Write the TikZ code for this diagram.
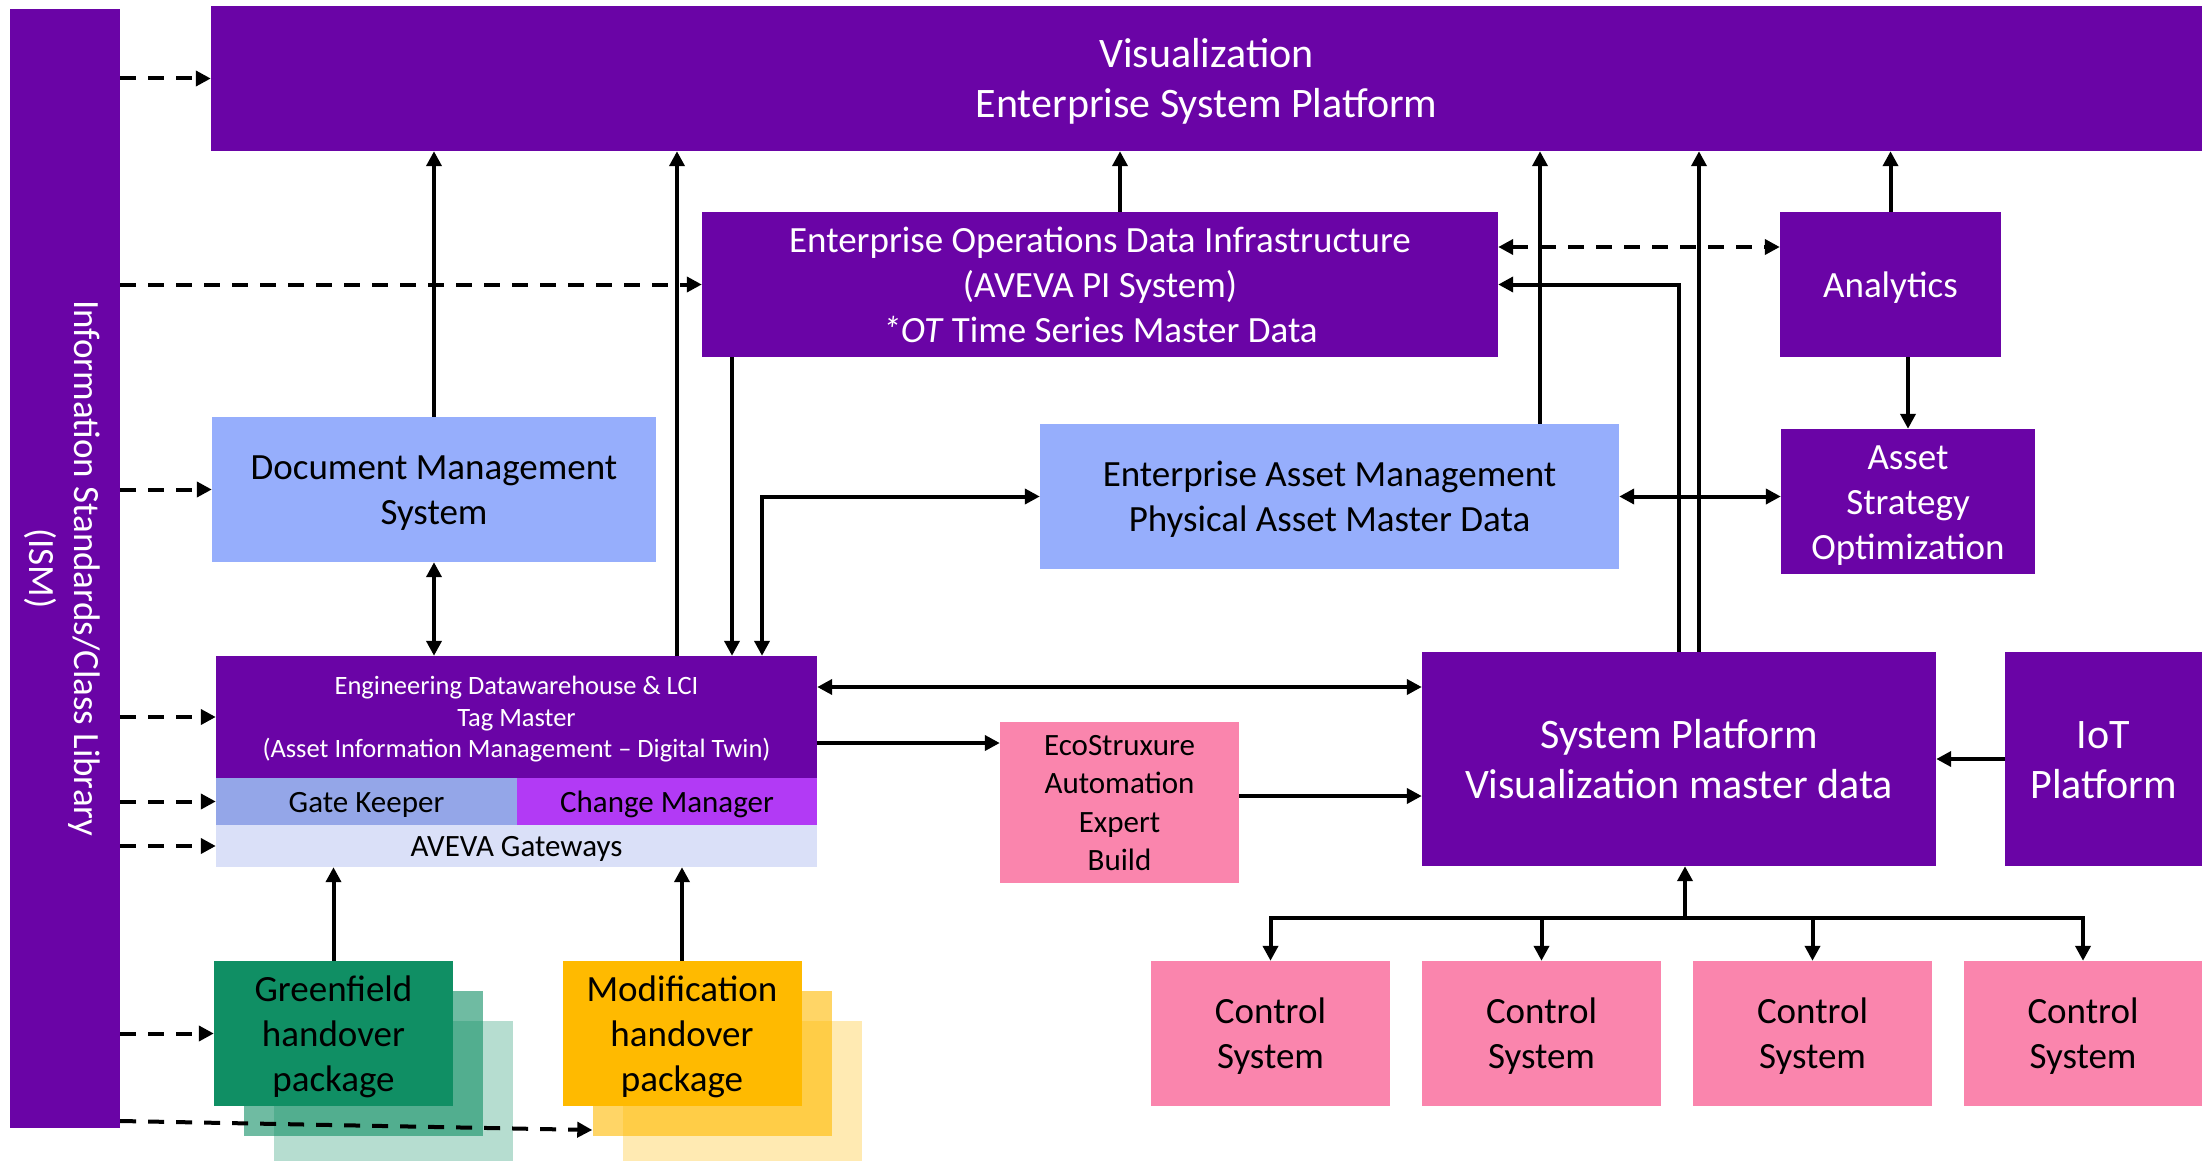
\documentclass[tikz,border=0pt]{standalone}
\usepackage{fontspec}
\setmainfont{Carlito}
\usetikzlibrary{arrows.meta}

\definecolor{avpurple}{RGB}{106,4,166}
\definecolor{avblue}{RGB}{150,174,252}
\definecolor{gatek}{RGB}{148,166,232}
\definecolor{changem}{RGB}{178,58,245}
\definecolor{gwblue}{RGB}{218,224,248}
\definecolor{avpink}{RGB}{250,133,173}
\definecolor{avgreen}{RGB}{16,143,100}
\definecolor{avyellow}{RGB}{255,186,0}

\begin{document}
\begin{tikzpicture}[x=1pt, y=-1pt,
    block/.style={rectangle, inner sep=0pt, align=center, font=\fontsize{37}{45}\selectfont,
        execute at begin node={\spaceskip=\fontdimen2\font\relax\rule{0pt}{0.95em}},
        execute at end node={\rule[-0.27em]{0pt}{0.27em}}},
    boxsize/.style 2 args={minimum width=#1, text width=#1, minimum height=#2},
    dark/.style={block, fill=avpurple, text=white},
    light/.style={block, fill=avblue},
    pinkbox/.style={block, fill=avpink},
    arrow/.style={-{Triangle[length=15pt,width=15pt]}, line width=4pt},
    both/.style={{Triangle[length=15pt,width=15pt]}-{Triangle[length=15pt,width=15pt]}, line width=4pt},
    dasharrow/.style={arrow, dash pattern=on 16pt off 12pt},
    dashboth/.style={both, dash pattern=on 16pt off 12pt}]

    \useasboundingbox[fill=white] (0,0) rectangle (2202,1161);

    % Standards bar
    \node[block, fill=avpurple, boxsize={110}{1119}] (ism) at (65,568.5) {};
    \node[block, rotate=-90, text=white, boxsize={1119}{0}] (ismtext) at (ism) {Information Standards/Class Library\\(ISM)};

    % Top layer
    \node[dark, boxsize={1991}{145}, font=\fontsize{42}{50}\selectfont] (viz) at (1206.5,78.5) {Visualization\\Enterprise System Platform};

    % Middle layer
    \node[dark, boxsize={796}{145}] (eodi) at (1100,284.5) {Enterprise Operations Data Infrastructure\\(AVEVA PI System)\\\textit{*OT} Time Series Master Data};
    \node[dark, boxsize={221}{145}] (analytics) at (1890.5,284.5) {Analytics};
    \node[light, boxsize={444}{145}] (dms) at (434,489.5) {Document Management\\System};
    \node[light, boxsize={579}{145}] (eam) at (1329.5,496.5) {Enterprise Asset Management\\Physical Asset Master Data};
    \node[dark, boxsize={254}{145}] (aso) at (1908,501.5) {Asset\\Strategy\\Optimization};

    % Engineering data
    \node[dark, boxsize={601}{122}, font=\fontsize{26.5}{31.5}\selectfont] (edw) at (516.5,717) {Engineering Datawarehouse \& LCI\\Tag Master\\(Asset Information Management -- Digital Twin)};
    \node[block, fill=gatek, boxsize={301}{47}, font=\fontsize{31}{37}\selectfont] (gate) at (366.5,801.5) {Gate Keeper};
    \node[block, fill=changem, boxsize={300}{47}, font=\fontsize{31}{37}\selectfont] (change) at (667,801.5) {Change Manager};
    \node[block, fill=gwblue, boxsize={601}{42}, font=\fontsize{31}{37}\selectfont] (gw) at (516.5,846) {AVEVA Gateways};

    % Handover packages
    \node[block, fill=avgreen, fill opacity=0.3, boxsize={239}{145}] (g3) at (393.5,1093.5) {};
    \node[block, fill=avgreen, fill opacity=0.6, boxsize={239}{145}] (g2) at (363.5,1063.5) {};
    \node[block, fill=avgreen, boxsize={239}{145}] (g1) at (333.5,1033.5) {Greenfield\\handover\\package};
    \node[block, fill=avyellow, fill opacity=0.3, boxsize={239}{145}] (m3) at (742,1093.5) {};
    \node[block, fill=avyellow, fill opacity=0.6, boxsize={239}{145}] (m2) at (712,1063.5) {};
    \node[block, fill=avyellow, boxsize={239}{145}] (m1) at (682,1033.5) {Modification\\handover\\package};

    % Platform side
    \node[pinkbox, boxsize={239}{161}, font=\fontsize{31}{38.5}\selectfont] (eco) at (1119.5,802.5) {EcoStruxure\\Automation\\Expert\\Build};
    \node[dark, boxsize={514}{214}, font=\fontsize{42}{50}\selectfont] (sp) at (1679,759) {System Platform\\Visualization master data};
    \node[dark, boxsize={197}{214}, font=\fontsize{42}{50}\selectfont] (iot) at (2103.5,759) {IoT\\Platform};

    % Control systems
    \foreach \i/\x in {1/1270.5, 2/1541.5, 3/1812.5, 4/2083}
        \node[pinkbox, boxsize={239}{145}] (cs\i) at (\x,1033.5) {Control\\System};

    % Standards feed
    \foreach \n in {viz, eodi, dms, edw, gate, gw, g1}
        \draw[dasharrow] (ism.east |- \n.west) -- (\n.west);
    \draw[dasharrow] (ism.east |- 0,1121) -- (m2.west |- 0,1130);

    % Up into visualization
    \draw[arrow] (dms.north) -- (dms.north |- viz.south);
    \draw[arrow] (677,0 |- edw.north) -- (677,0 |- viz.south);
    \draw[arrow] (1120,0 |- eodi.north) -- (1120,0 |- viz.south);
    \draw[arrow] (1540,0 |- eam.north) -- (1540,0 |- viz.south);
    \draw[arrow] (1699,0 |- sp.north) -- (1699,0 |- viz.south);
    \draw[arrow] (analytics.north) -- (analytics.north |- viz.south);

    % Middle links
    \draw[both] (dms.south) -- (dms.south |- edw.north);
    \draw[arrow] (732,0 |- eodi.south) -- (732,0 |- edw.north);
    \draw[both] (762,0 |- edw.north) |- (eam.west);
    \draw[arrow] (sp.north) |- (eodi.east);
    \draw[dashboth] (eodi.east |- 0,247) -- (analytics.west |- 0,247);
    \draw[arrow] (aso.north |- analytics.south) -- (aso.north);
    \draw[both] (eam.east) -- (aso.west |- eam.east);

    % Engineering to platform
    \draw[both] (edw.east |- 0,687) -- (sp.west |- 0,687);
    \draw[arrow] (edw.east |- 0,743) -- (eco.west |- 0,743);
    \draw[arrow] (eco.east |- 0,796) -- (sp.west |- 0,796);
    \draw[arrow] (iot.west) -- (sp.east);

    % Handover arrows
    \draw[arrow] (g1.north) -- (g1.north |- gw.south);
    \draw[arrow] (m1.north) -- (m1.north |- gw.south);

    % Control bus
    \coordinate (bus) at (1685,918);
    \draw[arrow] (bus) -- (bus |- sp.south);
    \foreach \i in {1,...,4}
        \draw[arrow] (bus) -| (cs\i.north);
\end{tikzpicture}
\end{document}
